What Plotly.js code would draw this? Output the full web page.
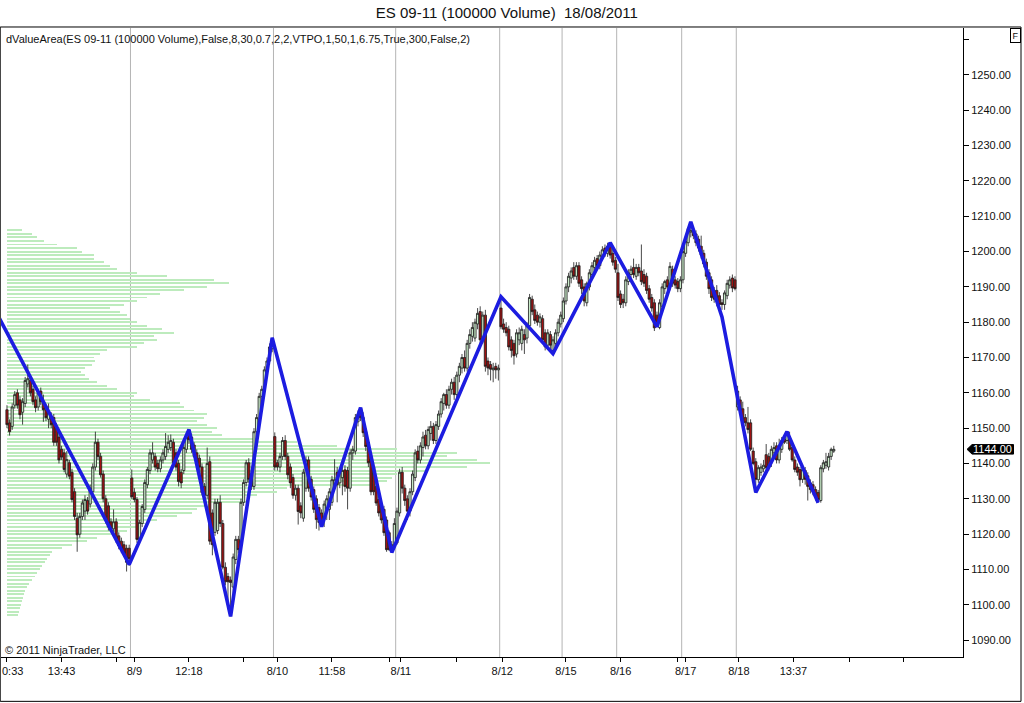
<!DOCTYPE html>
<html>
<head>
<meta charset="utf-8">
<script src="https://cdn.plot.ly/plotly-3.0.1.min.js"></script>
<style>html,body{margin:0;padding:0;background:#fff;}#chart{width:1024px;height:703px;}</style>
</head>
<body>
<div id="chart"></div>
<script>
// ---------- DATA ----------
const openP = [
1155.2,1151.5,1150.5,1156.5,1160,1158,1154.5,1157,1162.5,1163.5,1161,1158,1156,1160.5,1157.5,1155.2,1152.5,1153.3,1153,1150.5,
1147.5,1144,1143,1137,1140.2,1137.5,1132,1124.5,1120,1125,1126.5,1129.5,1128.5,1132,1139,1146,1142,1137,1130,1128,
1123.5,1121.5,1123.5,1119.5,1118,1117,1116,1116,
1135.9,1131.8,1129.8,1118.5,1123,1127,1134,1138,1141,1142,1140,1138.5,1141,1142,1144,1144.5,1146,1143,1140,1137.5,
1138,1144,1148.5,1147.5,1145.2,1143,1141.5,1139,1133.5,1131,1140.5,1126,1120.5,1121,1129,1123,1110.6,1108,1107,1105,
1112.8,1118.5,1117.5,1129,1134.6,1140.2,1137,1133.5,1149,1152.5,1159,1160.5,1166.5,1169,1172.5,
1147.6,1140.2,1139,1142,1146.5,1142,1139,1136,1131,1133,1128,1124.5,1133,1141,1135.5,1132.6,1130,1127.5,1126,1124.5,
1127,1127,1129,1133.5,1137.5,1134.5,1136,1138.2,1138,1133,1143,1143.5,1151.8,1155.5,1153,1149,1146,1141.1,1139,1133.5,
1129.8,1128.5,1127,1124,1120.4,1115.6,1117,
1117.5,1126,1137.5,1133,1130,1126.5,1132,1136,1143.5,1141,1144.5,1148,1145,1148.5,1150.5,1146.5,1150.5,1154,1157,1159.5,
1156.5,1161,1163,1159.5,1165,1167,1170,1167,1174,1176,1175.5,1179.5,1183,1175,1182,1169,1168,1166.5,1167.5,1166.5,
1184,1179.5,1178.5,1178,1175,1174,1171,1175,1174,1176.5,1175.5,1179,1186.5,1183.5,1182,1180,1181,1177,1173.5,1176.5,
1172,1174,1177,1179.5,
1181,1186,1190,1192.5,1195.5,1193,1196,1192,1190,1185.5,1190,1193.5,1195.5,1198,1196,1198.5,1201,1199.5,1202,1199.5,1197.5,
1194,1188,1186.5,1185.5,1191.5,1193.5,1195.5,1193,1195.5,1194.5,1193.5,1193,1189.5,1187,1185.5,1182,1178.5,1184.5,1189.5,1192,
1190,1195,1192,1191.5,1189.5,
1192,1199.5,1202.5,1205.5,1206,1205,1203.5,1201.5,1199.5,1197,1194,1192,1189,1189,1187.5,1185.5,1185,1187.5,1190.5,1192.5,1192,
1156,1158,1155.5,1153,1151.5,1151.5,1143.5,1140.5,1135.4,1137.5,1138.5,1142.5,1142,1140.2,1143,1145,1141,1144,1147,1146.5,
1147,1144.5,1141,1139,1138.3,1135.5,1138,1136.5,1134.5,1134,1132.6,1131.8,1129.5,1138.5,1139.5,1139,1142,1143.5
];
const highP = [
1156.5,1152.5,1157,1160.5,1161,1159,1158.5,1164.5,1168,1164.5,1162,1159,1161,1161.5,1159.5,1156,1157,1154.5,1154,1151.5,
1148.5,1145,1144,1143.5,1141,1138.5,1133,1126,1126,1129.8,1131,1130.5,1134,1140,1149,1147,1143,1138,1131,1129,
1124.5,1127,1124.5,1120.5,1119,1118,1117,1117,
1138.3,1133,1130.5,1124,1128.5,1135.5,1139,1144,1146,1143,1141,1142,1144,1148.6,1148,1148.2,1147,1144,1141,1138.5,
1145.5,1148.5,1149.6,1148.5,1146,1144,1142.5,1140,1134.5,1144.5,1142,1127,1130,1130,1131,1124,1112,1109,1108,1114.5,
1119.5,1119.5,1130,1135.5,1141,1141.5,1138,1150,1154,1160,1162,1167.5,1170,1174,1175.6,
1148.8,1141,1143,1147.5,1148,1143,1140,1137,1134,1134,1129,1138.5,1142,1142,1136.5,1133.5,1131,1128.5,1127,1129.5,
1131,1133,1136.5,1141.2,1139,1138.5,1139,1139.5,1139,1144,1145,1154,1155,1155.8,1154.5,1150,1147,1142,1140,1134.5,
1131,1129.5,1128,1125,1121,1118,1124.5,
1127.5,1138.5,1139,1134,1131,1133,1138,1144,1145,1146,1149,1149.5,1150.5,1152,1151.5,1152,1155,1158.5,1160,1161,
1162,1164,1164.5,1166,1168.5,1171,1172,1175,1178,1180,1181,1184,1184.5,1183,1183.5,1170,1169,1168.5,1168.5,1168,
1187.2,1181,1180,1179,1176,1175,1178,1178.5,1179,1178,1180,1188,1187.5,1185,1183,1182.5,1182,1178,1178,1177.5,
1176,1178,1181,1183,
1187,1191,1194,1195.5,1197,1197,1197,1193,1191,1191.5,1195,1197,1198.5,1199,1200,1201.5,1202,1202.5,1202.5,1200.5,1198.5,
1196.5,1189,1188,1193,1195,1196,1198,1196.5,1196.5,1202,1195,1194,1190.5,1188,1186.5,1183,1186.5,1191,1192,1193,
1197,1196,1193,1192.5,1193,
1201,1204,1207,1208.4,1207,1206,1204.5,1204.5,1200.5,1198,1195,1193,1190,1190.5,1188.5,1186.5,1189,1192,1193,1193.5,1193,
1162,1159,1157.5,1154,1156,1152.5,1144.5,1141.5,1139.5,1140,1141,1145.5,1143,1145,1146,1146,1147,1147.5,1148,1149,
1149,1145.5,1142,1140,1139,1139,1139,1137.5,1135.5,1135,1133.5,1132.5,1139.5,1141,1143,1143,1144.5,1145
];
const lowP = [
1150,1147.9,1149.5,1155.5,1155.5,1152.5,1151,1156,1161.5,1159,1156.5,1154.5,1155,1156.5,1151.8,1152,1150,1150,1145,1145,
1140,1141,1137.5,1136,1135.5,1129,1124,1115,1119,1124,1124,1125.5,1127.5,1131,1138,1141,1136,1129,1123,1121,
1120.5,1120.5,1117.5,1115.7,1114.6,1113.5,1109.4,1111,
1130,1129,1117.5,1117.5,1122,1126,1133,1137,1140,1138,1137.5,1137.5,1140,1141,1143,1143.5,1139,1138,1133.5,1133,
1137,1143,1145.5,1143,1141.5,1139.5,1138,1131,1130,1130,1117,1114,1119.5,1120,1122,1110,1105.5,1098.7,1096.7,1103,
1111.5,1114.5,1116.5,1128,1133.5,1134.5,1132.5,1132.5,1148,1151.5,1158,1159.5,1165.5,1168,1171.5,
1138,1138,1137.5,1141,1141,1135.5,1133,1130,1129.5,1122.7,1124.5,1123.5,1132,1132,1129.5,1126,1121.5,1121,1122.1,1122,
1124,1124,1128,1132.5,1129,1133,1131,1132,1127,1132,1141,1142.5,1150.5,1152,1147.5,1143.5,1139,1131,1131,1128,
1125,1123,1119.5,1115,1115.2,1114.8,1116.5,
1117,1125,1131.5,1128,1124,1125,1131,1135,1140,1140,1142,1144,1144,1146.5,1145.5,1145.5,1149.5,1153,1155,1155.5,
1155.5,1159.5,1158,1158.5,1163,1165.5,1166,1166,1172.5,1174.5,1174.5,1178,1174,1174,1166,1165,1163.5,1163,1164,1163.5,
1178,1177,1176,1172,1170,1168,1170,1173.5,1172,1171,1174,1178.5,1182,1179.5,1179,1178.5,1174,1172,1172.5,1172,
1171.1,1173,1176,1178.5,
1180,1185,1188.5,1191,1192,1192,1190,1188,1184.5,1184.5,1189,1192,1194,1195,1195,1197.5,1198.5,1198.5,1198,1196,1194,
1186,1184,1184,1184.5,1190.5,1192.5,1192.5,1192,1193,1190.5,1190,1188,1185.5,1183,1177.5,1178.7,1178,1184,1188,1189,
1189,1190,1189.5,1188.5,1188.5,
1191,1198.5,1201.5,1204,1203.5,1201.5,1200,1198,1195.5,1192,1188,1186,1185.5,1184.5,1184,1183.5,1183.5,1186.5,1189.5,1188.5,1189,
1155,1154.5,1151,1150.5,1148.5,1143.5,1139.5,1131.8,1134.5,1136.5,1137.5,1137.5,1138,1139,1142,1140,1140,1143,1145.5,1145.5,
1143.5,1140.5,1137.5,1136.5,1133.5,1134.5,1134,1129.5,1131.5,1131,1129.5,1128.9,1128.9,1137.5,1138.5,1138,1141,1143
];
const closeP = [
1151,1149,1156,1159.5,1156.5,1153.8,1157.5,1163.5,1164,1160,1157.5,1155.8,1160,1157.5,1155.2,1153,1154.5,1151,1146,1146,
1141,1141.8,1138.3,1141.1,1136.4,1129.8,1125,1119.8,1125,1128.8,1129.8,1126.5,1133,1139,1146,1142,1136.8,1130,1124,1122,
1121.5,1123.5,1118.5,1116.7,1115.6,1114.6,1112,1113,
1130.6,1129.8,1118.5,1123.3,1127.8,1134.6,1138.3,1143,1143,1139,1138.5,1141,1143,1144.8,1146,1146.5,1140.2,1139,1134.9,1134.5,
1144.5,1147.5,1146.7,1144,1142,1140.2,1139,1131.8,1131,1140,1118,1117,1129,1129,1123,1110.6,1106.5,1106.5,1106.3,1113.5,
1118.5,1115.6,1129,1134.6,1140.2,1135.5,1133.5,1149,1153,1159,1161,1166.5,1169,1173,1175,
1139,1139,1142,1146.5,1142,1136.8,1134.5,1131,1133,1126.4,1126,1137.5,1141,1133,1130.5,1127,1124.1,1123.3,1123,1128.5,
1130,1132,1135.4,1135.4,1134,1137.5,1138,1133.5,1133,1143,1144,1153,1154,1153,1148.7,1144.8,1140.2,1132,1132,1128.8,
1126,1124,1120.4,1115.6,1115.6,1117,1123,
1126.5,1137.5,1133,1129.5,1126.5,1132,1137,1143,1141,1145,1147.5,1145,1149.6,1150.5,1146.5,1151,1154,1157.5,1159.5,1156.5,
1161,1163,1159.5,1165,1167.5,1170,1167,1174,1176.5,1178.5,1180,1182.5,1175,1182,1167.5,1167,1166.7,1167,1166.5,1167,
1178.7,1178,1177,1173,1172,1170.5,1177,1177,1178,1175,1179,1187,1183,1180.5,1180,1181.5,1175,1173,1177,1173.5,
1175,1177,1180,1182,
1186,1190,1193,1194.5,1193,1196,1191,1189.5,1186,1191,1194,1196,1197.5,1196,1199,1200.5,1199.5,1201.5,1199,1197,1195,
1187,1185,1185.5,1192,1194,1195,1193.5,1195.5,1194,1191.5,1191,1189,1186.5,1184,1178.4,1179,1185.5,1190,1191.5,1190,
1195.8,1191,1190.5,1189.5,1192,
1200,1203,1206.5,1206,1204.5,1202.5,1201,1199,1196.5,1193,1189.5,1187,1186.5,1186,1185,1185,1188.3,1191,1192,1189.7,1189.5,
1160.5,1155,1151.5,1151.5,1149.6,1144,1140,1135.5,1138.8,1139,1139.5,1138.8,1139,1144,1144.5,1141,1144.5,1146.5,1146,1148.5,
1144,1141,1138.3,1137.5,1135.4,1138.3,1135.5,1133.5,1132.6,1132,1130.6,1129.8,1138.8,1140.2,1140.5,1142,1144,1144
];

// zigzag swing points (bar index, price)
const zigBar   = [-3, 47, 70, 86, 102, 121, 136, 148, 190, 210, 232, 250, 263, 275, 288, 300, 312];
const zigPrice = [1181.2,1111.4,1149.6,1096.7,1175.6,1122.1,1155.8,1114.8,1187.2,1171.1,1202.5,1178.7,1208.4,1181.5,1131.8,1149.0,1128.9];

// volume profile (price level, relative volume)
const profilePrice = [];
for (let p = 1097; p <= 1207; p++) profilePrice.push(p);
const profileVol = [
11,12,13,14,15,16,17,18,20,22,25,28,30,33,35,38,40,43,45,55,
65,80,90,110,120,130,140,150,170,185,190,200,240,235,250,270,280,370,380,385,
390,420,460,483,470,440,450,390,330,290,250,215,205,210,200,190,197,200,187,177,
173,143,127,130,110,100,90,82,78,74,78,85,88,87,93,100,130,137,150,147,
167,155,140,130,123,120,113,103,117,130,140,153,177,200,222,207,160,130,110,103,
97,87,87,75,70,50,37,30,25,15
];

// session starts (bar index)
const dayStart = [48, 103, 150, 190, 214, 235, 260, 281];

// x-axis ticks (bar index) and their labels; the first label is clipped by the window edge
const tickPos    = [0, 21, 42, 49, 70, 91, 104, 125, 147, 151.5, 173, 190.5, 215, 236, 258, 261, 281.5, 302.5, 324, 345];
const tickLabels = ["","13:43","","8/9","12:18","","8/10","11:58","","8/11","","8/12","8/15","8/16","","8/17","8/18","13:37","",""];
const firstTickText = "0:33";

// y-axis ticks
const yTickVals   = [1090,1100,1110,1120,1130,1140,1150,1160,1170,1180,1190,1200,1210,1220,1230,1240,1250,1260];
const yTickLabels = ["1090.00","1100.00","1110.00","1120.00","1130.00","1140.00","1150.00","1160.00","1170.00","1180.00","1190.00","1200.00","1210.00","1220.00","1230.00","1240.00","1250.00",""];

const chartTitle = "ES 09-11 (100000 Volume)\u00a0 18/08/2011";
const indicatorText = "dValueArea(ES 09-11 (100000 Volume),False,8,30,0.7,2,2,VTPO,1,50,1,6.75,True,300,False,2)";
const copyrightText = "\u00a9 2011 NinjaTrader, LLC";

// ---------- CHART ----------
const FONT = "Liberation Sans, Arial, sans-serif";
const barIdx = closeP.map((_, i) => i);
const lastClose = closeP[closeP.length - 1];

const traces = [
  {
    type: "bar", orientation: "h",
    x: profileVol, y: profilePrice,
    xaxis: "x", yaxis: "y",
    width: 0.55,
    marker: {color: "#bdebbd", line: {width: 0}},
    hoverinfo: "skip"
  },
  {
    type: "candlestick",
    x: barIdx, open: openP, high: highP, low: lowP, close: closeP,
    xaxis: "x2", yaxis: "y",
    increasing: {line: {color: "#1a1a1a", width: 0.8}, fillcolor: "#c9ebc9"},
    decreasing: {line: {color: "#1a1a1a", width: 0.8}, fillcolor: "#a01212"},
    whiskerwidth: 0,
    hoverinfo: "skip"
  },
  {
    type: "scatter", mode: "lines",
    x: zigBar, y: zigPrice,
    xaxis: "x2", yaxis: "y",
    line: {color: "#1c1ce0", width: 3.6},
    hoverinfo: "skip"
  }
];

const shapes = dayStart.map(d => ({
  type: "line", xref: "x2", yref: "paper",
  x0: d - 0.5, x1: d - 0.5, y0: 0, y1: 1,
  line: {color: "#b4b4b4", width: 1}, layer: "below"
}));

// outer frame
shapes.push({type: "rect", xref: "paper", yref: "paper",
  x0: -0.0008, x1: 1.0603, y0: -0.0705, y1: 1.0016,
  line: {color: "#000", width: 1}, fillcolor: "rgba(0,0,0,0)", layer: "above"});
// price marker box
const hh = 1.35;
shapes.push({type: "path", xref: "paper", yref: "y",
  path: `M 1.0042 ${lastClose} L 1.0094 ${lastClose + hh} L 1.0525 ${lastClose + hh} L 1.0525 ${lastClose - hh} L 1.0094 ${lastClose - hh} Z`,
  fillcolor: "#000", line: {color: "#000", width: 1}, layer: "above"});

const annotations = [
  {xref: "paper", yref: "paper", x: 0.003, y: 0.9825, xanchor: "left", yanchor: "middle",
   text: indicatorText, showarrow: false, font: {family: FONT, size: 11, color: "#111"}},
  {xref: "paper", yref: "paper", x: 0.002, y: 0.011, xanchor: "left", yanchor: "middle",
   text: copyrightText, showarrow: false, font: {family: FONT, size: 11, color: "#111"}},
  {xref: "paper", yref: "paper", x: 0.0, y: -0.0215, xanchor: "left", yanchor: "middle",
   text: firstTickText, showarrow: false, borderpad: 0, font: {family: FONT, size: 11, color: "#111"}},
  {xref: "paper", yref: "y", x: 1.031, y: lastClose, xanchor: "center", yanchor: "middle",
   text: lastClose.toFixed(2), showarrow: false, font: {family: FONT, size: 11, color: "#fff"}},
  {xref: "paper", yref: "paper", x: 1.0546, y: 0.9875, xanchor: "center", yanchor: "middle",
   text: "F", showarrow: false, font: {family: FONT, size: 9, color: "#111"},
   bordercolor: "#000", borderwidth: 1, borderpad: 1.5, bgcolor: "#fff"}
];

const layout = {
  width: 1024, height: 703,
  margin: {l: 1, r: 61, t: 28, b: 46, pad: 0},
  paper_bgcolor: "#fff", plot_bgcolor: "#fff",
  showlegend: false,
  boxgap: 0.15, boxgroupgap: 0,
  font: {family: FONT, size: 11, color: "#111"},
  title: {text: chartTitle, x: 0.495, xref: "container", xanchor: "center",
          y: 0.9815, yref: "container", yanchor: "middle",
          font: {family: FONT, size: 15, color: "#111"}},
  xaxis: {range: [-6, 956], visible: false, fixedrange: true, showgrid: false, zeroline: false},
  xaxis2: {overlaying: "x", side: "bottom", anchor: "y",
    range: [-2.3, 367.7], fixedrange: true,
    tickmode: "array", tickvals: tickPos, ticktext: tickLabels,
    ticks: "outside", ticklen: 4, tickcolor: "#000", tickwidth: 1,
    showline: true, linecolor: "#000", linewidth: 1,
    showgrid: false, zeroline: false,
    tickfont: {family: FONT, size: 11, color: "#111"},
    rangeslider: {visible: false}},
  yaxis: {side: "right", range: [1085.2, 1263.3], fixedrange: true,
    tickmode: "array", tickvals: yTickVals, ticktext: yTickLabels,
    ticks: "outside", ticklen: 5, tickcolor: "#000", tickwidth: 1,
    showline: true, linecolor: "#000", linewidth: 1,
    showgrid: false, zeroline: false,
    tickfont: {family: FONT, size: 11, color: "#111"}},
  shapes: shapes,
  annotations: annotations,
  bargap: 0
};

Plotly.newPlot("chart", traces, layout, {staticPlot: true, displayModeBar: false});
</script>
</body>
</html>
